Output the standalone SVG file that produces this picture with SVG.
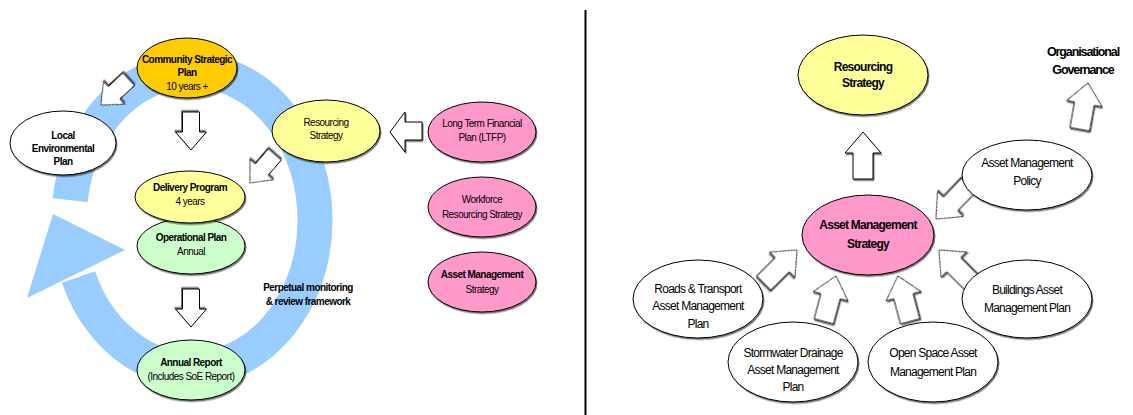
<svg xmlns="http://www.w3.org/2000/svg" xmlns:xlink="http://www.w3.org/1999/xlink" width="1133" height="415" viewBox="0 0 1133 415">
<style>
text{font-family:"Liberation Sans",Arial,sans-serif;text-anchor:middle;fill:#000}
.b{font-weight:bold}
.s{font-size:10px;letter-spacing:-0.55px}
.m{font-size:12px;letter-spacing:-0.75px}
.g{font-size:12.5px;font-weight:bold;letter-spacing:-1.1px}
.n{stroke:#000;stroke-width:1;filter:url(#sh)}
.ar{fill:#fff;stroke:#000;stroke-width:1;filter:url(#sh)}
.or{fill:#FFCC00}.ye{fill:#FFFF99}.gr{fill:#CCFFCC}.pk{fill:#FF99CC}.wh{fill:#fff}
</style>
<defs>
<filter id="sh" x="-20%" y="-20%" width="140%" height="140%">
<feDropShadow dx="1" dy="1.5" stdDeviation="0.5" flood-color="#000" flood-opacity="0.55"/>
</filter>
<path id="as" d="M0,0 L15.5,18 L8.5,18 L8.5,38 L-8.5,38 L-8.5,18 L-15.5,18 Z"/>
<path id="al" d="M0,0 L18,21 L10,21 L10,47 L-10,47 L-10,21 L-18,21 Z"/>
</defs>
<rect width="1133" height="415" fill="#fff"/>

<g id="cycle-band">
<path d="M70.1,200.2 A123,150 0 0 1 315,220 A123,150 0 0 1 78.5,277" fill="none" stroke="#99CCFF" stroke-width="35"/>
<polygon points="53,214 125,250 27,298" fill="#99CCFF"/>
</g>

<line id="divider" x1="585.5" y1="10" x2="585.5" y2="415" stroke="#000" stroke-width="2"/>

<g id="connectors">
<use xlink:href="#as" class="ar" transform="translate(101,105) rotate(-133)"/>
<use xlink:href="#as" class="ar" transform="translate(191,150) rotate(180)"/>
<use xlink:href="#as" class="ar" transform="translate(250,183) rotate(-139)"/>
<path class="ar" d="M390,132 L405,112 L405,122 L422,122 L422,140 L405,140 L405,152 Z"/>
<use xlink:href="#as" class="ar" transform="translate(191,327) rotate(180)"/>
<use xlink:href="#al" class="ar" transform="translate(863,132)"/>
<use xlink:href="#al" class="ar" transform="translate(1088,83) rotate(10)"/>
<use xlink:href="#al" class="ar" transform="translate(936,219) rotate(-136)"/>
<use xlink:href="#al" class="ar" transform="translate(797,250) rotate(45)"/>
<use xlink:href="#al" class="ar" transform="translate(836,276) rotate(15)"/>
<use xlink:href="#al" class="ar" transform="translate(898,276) rotate(-15)"/>
<use xlink:href="#al" class="ar" transform="translate(939,250) rotate(-45)"/>
</g>

<g id="csp">
<ellipse class="n or" cx="187" cy="68" rx="50" ry="30"/>
<text class="b s" x="187" y="63">Community Strategic</text>
<text class="b s" x="187" y="76">Plan</text>
<text class="s" x="187" y="90">10 years +</text>
</g>
<g id="lep">
<ellipse class="n wh" cx="63" cy="143" rx="53" ry="32"/>
<text class="b s" x="63" y="139">Local</text>
<text class="b s" x="63" y="152">Environmental</text>
<text class="b s" x="63" y="165">Plan</text>
</g>
<g id="rs-left">
<ellipse class="n ye" cx="326" cy="131" rx="54" ry="31"/>
<text class="s" x="326" y="126">Resourcing</text>
<text class="s" x="326" y="139">Strategy</text>
</g>
<g id="op">
<ellipse class="n gr" cx="191" cy="246" rx="54" ry="28"/>
<text class="b s" x="191" y="241">Operational Plan</text>
<text class="s" x="191" y="255">Annual</text>
</g>
<g id="dp">
<ellipse class="n ye" cx="190" cy="197" rx="55" ry="26"/>
<text class="b s" x="190" y="191">Delivery Program</text>
<text class="s" x="190" y="205">4 years</text>
</g>
<g id="ar-left">
<ellipse class="n gr" cx="191" cy="370" rx="54" ry="30"/>
<text class="b s" x="191" y="366">Annual Report</text>
<text class="s" x="191" y="380">(Includes SoE Report)</text>
</g>
<g id="ltfp">
<ellipse class="n pk" cx="482" cy="132" rx="54" ry="30"/>
<text class="s" x="482" y="127">Long Term Financial</text>
<text class="s" x="482" y="141">Plan (LTFP)</text>
</g>
<g id="wrs">
<ellipse class="n pk" cx="482" cy="207" rx="54" ry="30"/>
<text class="s" x="482" y="203">Workforce</text>
<text class="s" x="482" y="218">Resourcing Strategy</text>
</g>
<g id="ams-left">
<ellipse class="n pk" cx="482" cy="282" rx="54" ry="30"/>
<text class="b s" x="482" y="278">Asset Management</text>
<text class="s" x="482" y="293">Strategy</text>
</g>
<g id="perpetual">
<text class="b s" x="308" y="291">Perpetual monitoring</text>
<text class="b s" x="308" y="305">&amp; review framework</text>
</g>

<g id="rs-right">
<ellipse class="n ye" cx="863" cy="75" rx="65" ry="40"/>
<text class="b m" x="863" y="71">Resourcing</text>
<text class="b m" x="863" y="87">Strategy</text>
</g>
<g id="governance">
<text class="g" x="1083" y="56">Organisational</text>
<text class="g" x="1083" y="74">Governance</text>
</g>
<g id="policy">
<ellipse class="n wh" cx="1027" cy="175" rx="65" ry="35"/>
<text class="m" x="1027" y="167">Asset Management</text>
<text class="m" x="1027" y="185">Policy</text>
</g>
<g id="ams-right">
<ellipse class="n pk" cx="868" cy="235" rx="66" ry="40"/>
<text class="b m" x="868" y="229">Asset Management</text>
<text class="b m" x="868" y="248">Strategy</text>
</g>
<g id="roads">
<ellipse class="n wh" cx="698" cy="299" rx="65" ry="39"/>
<text class="m" x="698" y="293">Roads &amp; Transport</text>
<text class="m" x="698" y="310">Asset Management</text>
<text class="m" x="698" y="328">Plan</text>
</g>
<g id="buildings">
<ellipse class="n wh" cx="1027" cy="299" rx="65" ry="39"/>
<text class="m" x="1027" y="294">Buildings Asset</text>
<text class="m" x="1027" y="312">Management Plan</text>
</g>
<g id="stormwater">
<ellipse class="n wh" cx="793" cy="362" rx="65" ry="40"/>
<text class="m" x="793" y="357">Stormwater Drainage</text>
<text class="m" x="793" y="374">Asset Management</text>
<text class="m" x="793" y="391">Plan</text>
</g>
<g id="openspace">
<ellipse class="n wh" cx="933" cy="362" rx="65" ry="40"/>
<text class="m" x="933" y="357">Open Space Asset</text>
<text class="m" x="933" y="376">Management Plan</text>
</g>
</svg>
